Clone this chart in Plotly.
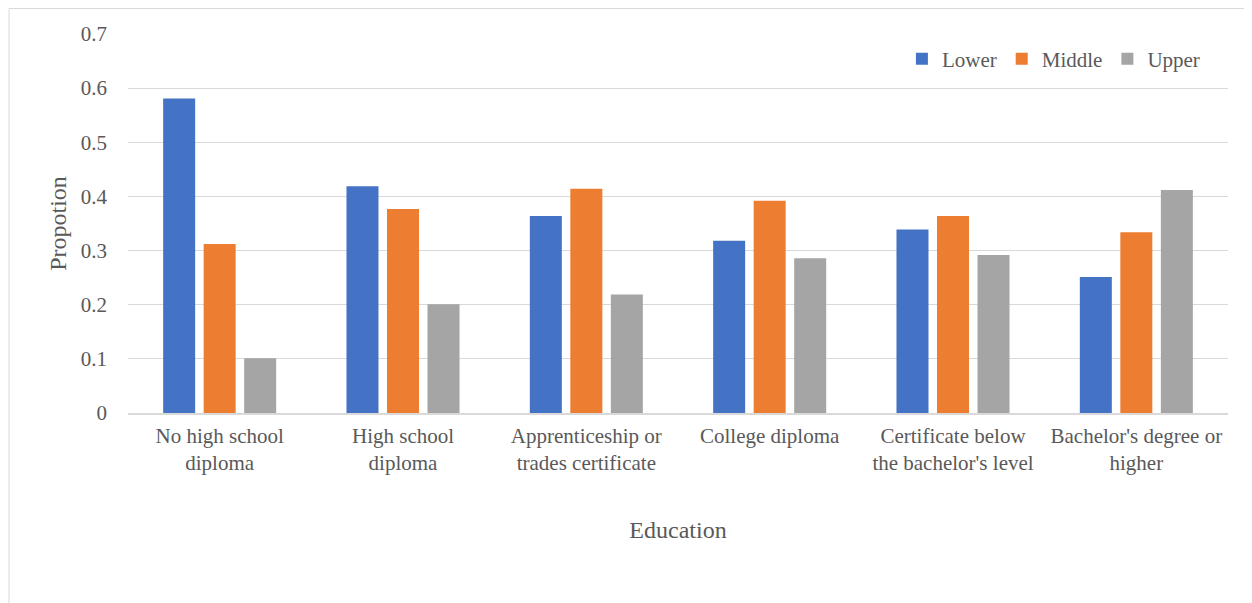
import plotly.graph_objects as go

categories = ["No high school<br>diploma", "High school<br>diploma", "Apprenticeship or<br>trades certificate",
              "College diploma", "Certificate below<br>the bachelor's level", "Bachelor's degree or<br>higher"]
lower = [0.581, 0.419, 0.364, 0.318, 0.339, 0.251]
middle = [0.312, 0.377, 0.414, 0.392, 0.364, 0.334]
upper = [0.101, 0.201, 0.219, 0.286, 0.292, 0.412]
series_names = ["Lower", "Middle", "Upper"]
colors = ["#4472C4", "#ED7D31", "#A5A5A5"]

FONT = "Liberation Serif"
TXT = "#595959"

fig = go.Figure()
for name, vals, col in zip(series_names, [lower, middle, upper], colors):
    fig.add_trace(go.Bar(x=categories, y=vals, name=name, marker=dict(color=col, line=dict(width=0))))

W, H = 1244, 595
L, R, T, B = 120, 24, 26, 190
PW, PH = W - L - R, H - T - B

fig.update_layout(
    width=W, height=H,
    paper_bgcolor="white", plot_bgcolor="white",
    margin=dict(l=L, r=R, t=T, b=B, autoexpand=False),
    barmode="group", bargap=0.337, bargroupgap=0.21,
    font=dict(family=FONT, size=21, color=TXT),
    legend=dict(orientation="h", x=0.979, xanchor="right", y=0.934, yanchor="middle",
                font=dict(family=FONT, size=21, color=TXT), itemwidth=30,
                bgcolor="rgba(0,0,0,0)", traceorder="normal"),
    xaxis=dict(showgrid=False, showline=True, linecolor="#d9d9d9", linewidth=1.5,
               ticks="", ticklabelstandoff=3, tickfont=dict(family=FONT, size=21, color=TXT), automargin=False,
               title=dict(text="Education", font=dict(family=FONT, size=24, color=TXT), standoff=47)),
    yaxis=dict(range=[0, 0.7], dtick=0.1, tickformat="~g", showgrid=True, gridcolor="#d9d9d9", gridwidth=1,
               zeroline=False, showline=False, ticks="", ticklabelstandoff=20, automargin=False,
               tickfont=dict(family=FONT, size=21, color=TXT),
               title=dict(text="Propotion", font=dict(family=FONT, size=24, color=TXT), standoff=7)),
)

fig.add_shape(type="rect", xref="paper", yref="paper",
              x0=(1 - L) / PW, x1=(1243 - L) / PW,
              y0=(H - T - B + T - 610) / PH, y1=(T + PH - 0.5) / PH,
              line=dict(color="#d9d9d9", width=1), fillcolor="rgba(0,0,0,0)", layer="below")

fig.write_html("out.html")
